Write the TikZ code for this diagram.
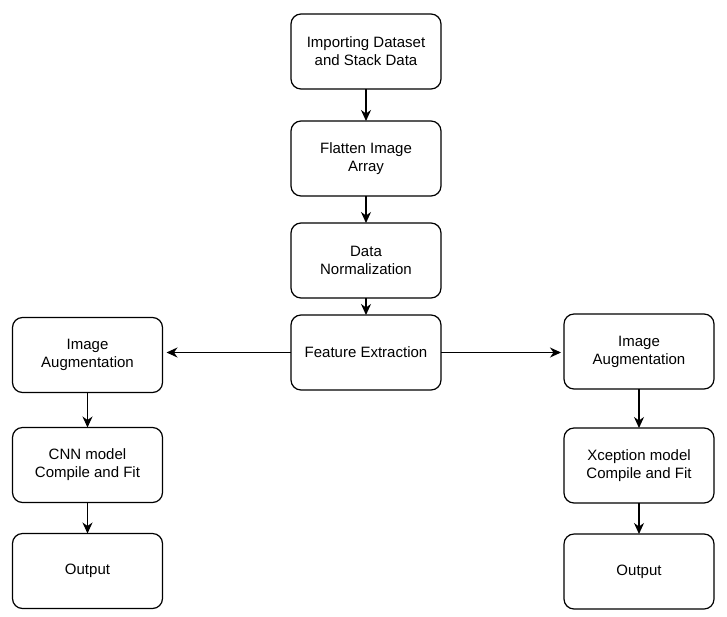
\documentclass[tikz,border=0pt]{standalone}
\usepackage{fontspec}
\setmainfont{Liberation Sans}
\usetikzlibrary{positioning,arrows.meta}
\begin{document}
\begin{tikzpicture}[x=1pt,y=1pt,
stage/.style = {draw, rounded corners=10pt,
	line width=1.2pt, outer sep=0pt,
	minimum width=150pt,
	minimum height=75pt,
	align=center,
font=\fontsize{15}{18}\selectfont},
flow/.style = {-{Stealth[length=11pt,width=10pt,inset=3.5pt]},
line width=1.2pt}]

\useasboundingbox (0,0) rectangle (727,-616);

\node (imp) at (366,-51.5) [stage] {Importing Dataset\\and Stack Data};
\node (flat) [stage, below=32pt of imp] {Flatten Image\\Array};
\node (norm) [stage, below=27pt of flat] {Data\\Normalization};
\node (feat) [stage, below=17pt of norm] {Feature Extraction};

\node (augl) at (87.5,-355) [stage] {Image\\Augmentation};
\node (cnn) [stage, below=35pt of augl] {CNN model\\Compile and Fit};
\node (outl) [stage, below=31pt of cnn] {Output};

\node (augr) at (639,-351.5) [stage] {Image\\Augmentation};
\node (xcep) [stage, below=39pt of augr] {Xception model\\Compile and Fit};
\node (outr) [stage, below=31pt of xcep] {Output};

\draw [flow] (imp) -- (flat);
\draw [flow] (flat) -- (norm);
\draw [flow] (norm) -- (feat);
\draw [flow, shorten >=4pt] (feat.west) -- (feat.west -| augl.east);
\draw [flow, shorten >=3pt] (feat.east) -- (feat.east -| augr.west);
\draw [flow] (augl) -- (cnn);
\draw [flow] (cnn) -- (outl);
\draw [flow] (augr) -- (xcep);
\draw [flow] (xcep) -- (outr);
\end{tikzpicture}
\end{document}
